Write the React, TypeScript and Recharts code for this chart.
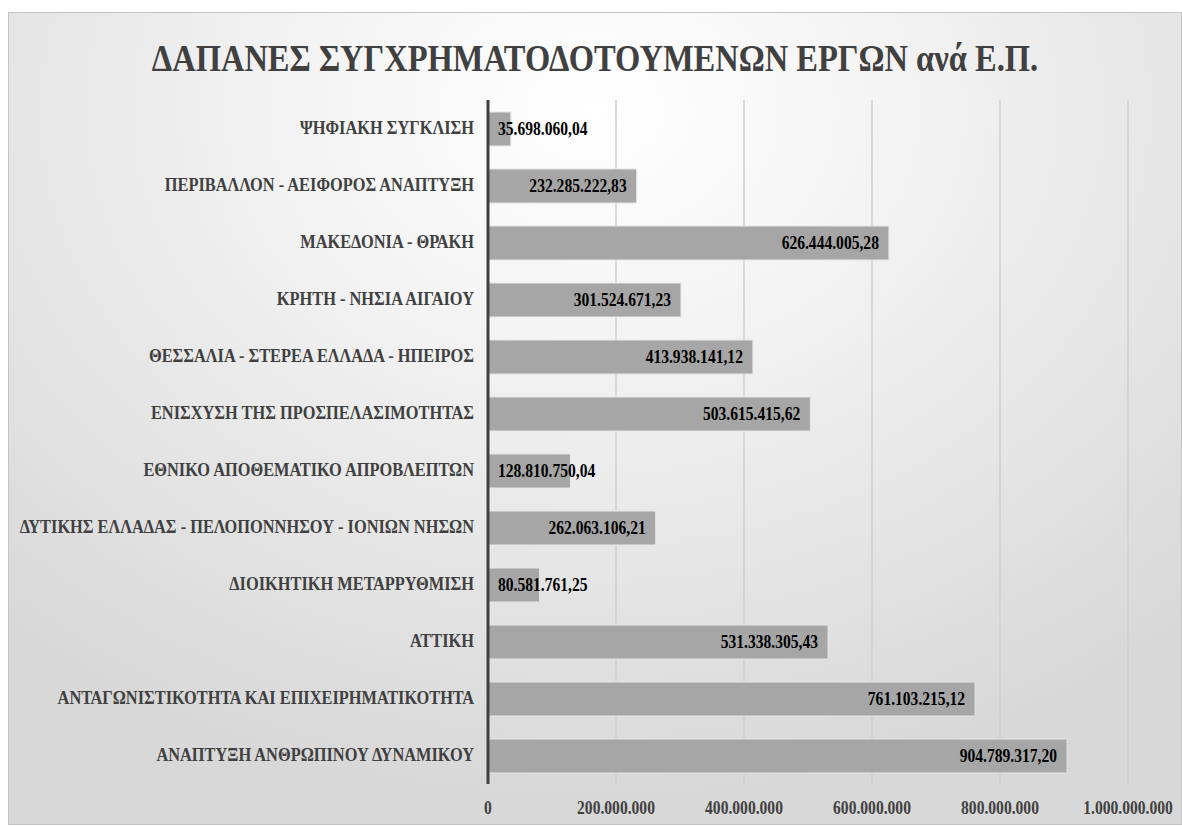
import { Bar, BarChart, CartesianGrid, LabelList, XAxis, YAxis } from "recharts";

const CATEGORIES = [
  "ΨΗΦΙΑΚΗ ΣΥΓΚΛΙΣΗ",
  "ΠΕΡΙΒΑΛΛΟΝ - ΑΕΙΦΟΡΟΣ ΑΝΑΠΤΥΞΗ",
  "ΜΑΚΕΔΟΝΙΑ - ΘΡΑΚΗ",
  "ΚΡΗΤΗ - ΝΗΣΙΑ ΑΙΓΑΙΟΥ",
  "ΘΕΣΣΑΛΙΑ - ΣΤΕΡΕΑ ΕΛΛΑΔΑ - ΗΠΕΙΡΟΣ",
  "ΕΝΙΣΧΥΣΗ ΤΗΣ ΠΡΟΣΠΕΛΑΣΙΜΟΤΗΤΑΣ",
  "ΕΘΝΙΚΟ ΑΠΟΘΕΜΑΤΙΚΟ ΑΠΡΟΒΛΕΠΤΩΝ",
  "ΔΥΤΙΚΗΣ ΕΛΛΑΔΑΣ - ΠΕΛΟΠΟΝΝΗΣΟΥ - ΙΟΝΙΩΝ ΝΗΣΩΝ",
  "ΔΙΟΙΚΗΤΙΚΗ ΜΕΤΑΡΡΥΘΜΙΣΗ",
  "ΑΤΤΙΚΗ",
  "ΑΝΤΑΓΩΝΙΣΤΙΚΟΤΗΤΑ ΚΑΙ ΕΠΙΧΕΙΡΗΜΑΤΙΚΟΤΗΤΑ",
  "ΑΝΑΠΤΥΞΗ ΑΝΘΡΩΠΙΝΟΥ ΔΥΝΑΜΙΚΟΥ"
];

const AMOUNTS = [
  35698060.04, 232285222.83, 626444005.28, 301524671.23, 413938141.12, 503615415.62,
  128810750.04, 262063106.21, 80581761.25, 531338305.43, 761103215.12, 904789317.2
];

const X_TICKS = [0, 200000000, 400000000, 600000000, 800000000, 1000000000];

const FONT = '"Liberation Serif", "Times New Roman", serif';
const SQUEEZE = 0.82;

const data = CATEGORIES.map((name, i) => ({ name, amount: AMOUNTS[i] }));

function dotted(n: number) {
  return Math.round(n).toString().replace(/\B(?=(\d{3})+(?!\d))/g, ".");
}

function amountLabel(n: number) {
  const [int, dec] = n.toFixed(2).split(".");
  return `${dotted(Number(int))},${dec}`;
}

function CategoryTick(props: any) {
  const { x, y, payload } = props;
  return (
    <text
      transform={`translate(${x},${y}) scale(0.91,1)`}
      textAnchor="end"
      dominantBaseline="central"
      fontFamily={FONT}
      fontWeight="bold"
      fontSize={18}
      fill="#404040"
    >
      {payload.value}
    </text>
  );
}

function AmountTick(props: any) {
  const { x, y, payload } = props;
  return (
    <text
      transform={`translate(${x},${y}) scale(${SQUEEZE},1)`}
      textAnchor="middle"
      dominantBaseline="central"
      fontFamily={FONT}
      fontWeight="bold"
      fontSize={19}
      fill="#404040"
    >
      {dotted(payload.value)}
    </text>
  );
}

// Excel "inside end": text sits at the bar's end, or runs out from
// the bar's start when the bar is too short to hold it.
function ValueLabel(props: any) {
  const { x, y, width, height, value } = props;
  const fits = width > 115;
  const tx = fits ? x + width - 10 : x + 10;
  return (
    <text
      transform={`translate(${tx},${y + height / 2}) scale(${SQUEEZE},1)`}
      textAnchor={fits ? "end" : "start"}
      dominantBaseline="central"
      fontFamily={FONT}
      fontWeight="bold"
      fontSize={19}
      fill="#000000"
    >
      {amountLabel(value)}
    </text>
  );
}

export default function App() {
  return (
    <div
      style={{
        position: "absolute",
        left: 8,
        top: 12,
        width: 1174,
        height: 813,
        boxSizing: "border-box",
        border: "1px solid #c4c4c4",
        background:
          "radial-gradient(ellipse 75% 85% at 50% 12%, #ffffff 0%, #f3f3f3 35%, #e4e4e4 70%, #d8d8d8 100%)",
        overflow: "hidden"
      }}
    >
      <div
        style={{
          position: "absolute",
          left: 0,
          right: 0,
          top: 23,
          textAlign: "center",
          fontFamily: FONT,
          fontWeight: "bold",
          fontSize: 38,
          color: "#404040",
          transform: "scaleX(0.855)",
          whiteSpace: "nowrap"
        }}
      >
        ΔΑΠΑΝΕΣ ΣΥΓΧΡΗΜΑΤΟΔΟΤΟΥΜΕΝΩΝ ΕΡΓΩΝ ανά Ε.Π.
      </div>
      <BarChart
        width={1172}
        height={811}
        data={data}
        layout="vertical"
        margin={{ top: 87, right: 53, bottom: 10, left: 0 }}
        barSize={34}
        style={{ position: "absolute", left: 0, top: 0 }}
      >
        <CartesianGrid horizontal={false} stroke="#cfcfcf" strokeWidth={1.5} />
        <XAxis
          type="number"
          domain={[0, 1000000000]}
          ticks={X_TICKS}
          axisLine={false}
          tickLine={false}
          height={30}
          tick={<AmountTick />}
          tickMargin={18}
        />
        <YAxis
          type="category"
          dataKey="name"
          width={479}
          axisLine={{ stroke: "#404040", strokeWidth: 3 }}
          tickLine={false}
          tickMargin={8}
          tick={<CategoryTick />}
          interval={0}
        />
        <Bar dataKey="amount" fill="#a6a6a6" stroke="#e6e6e6" strokeWidth={1} isAnimationActive={false}>
          <LabelList dataKey="amount" content={<ValueLabel />} />
        </Bar>
      </BarChart>
    </div>
  );
}
